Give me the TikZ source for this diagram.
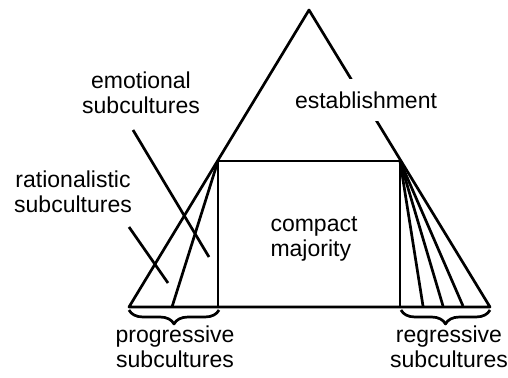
\documentclass[tikz,border=0pt]{standalone}
\usepackage{fontspec}
\setmainfont{Liberation Sans}
\usetikzlibrary{decorations.pathreplacing}

\begin{document}
\begin{tikzpicture}[x=1pt, y=-1pt,
   ln/.style = {draw=black, line width=2.7pt, line join=round},
  txt/.style = {font=\fontsize{23}{25}\selectfont, align=center, inner sep=0pt},
 brce/.style = {ln, decorate, decoration={brace, mirror, amplitude=14pt}}
                    ]
\useasboundingbox (0,0) rectangle (508,377);
% corners
\coordinate (top) at (309,10);
\coordinate (BL)  at (129,307);
\coordinate (BR)  at (490,307);
\coordinate (RTL) at (218,161);
\coordinate (RTR) at (400,161);
\coordinate (RBR) at (400,307);
\coordinate (LF)  at (172,307);
%
\draw[ln] (BL) -- (top) -- (BR) -- cycle;
\draw[ln] (RTL) rectangle (RBR);
\draw[ln] (RTL) -- (LF);
\foreach \x in {423,443,463}{
  \coordinate (RF) at (\x,306);
  \draw[ln] (RTR) -- (RF);
}
% texts
\node(EST) [txt, fill=white, inner ysep=13pt] at (366,100) {establishment};
\node(CM)  [txt, align=left] at (314,239) {compact\\majority};
\node(EMO) [txt] at (141,93) {emotional\\subcultures};
\node(RAT) [txt] at (73,192) {rationalistic\\subcultures};
\node(PRO) [txt] at (175,347) {progressive\\subcultures};
\node(REG) [txt] at (449,347) {regressive\\subcultures};
% pointers
\coordinate (E1) at (133,130);
\coordinate (E2) at (209,257);
\coordinate (R1) at (129,227);
\coordinate (R2) at (168,283);
\path   (E1) edge[ln] (E2)
        (R1) edge[ln] (R2);
% braces
\coordinate (PB1) at (129,310);
\coordinate (PB2) at (219,310);
\coordinate (GB1) at (401,310);
\coordinate (GB2) at (490,310);
\draw[brce] (PB1) -- (PB2);
\draw[brce] (GB1) -- (GB2);
\end{tikzpicture}
\end{document}
